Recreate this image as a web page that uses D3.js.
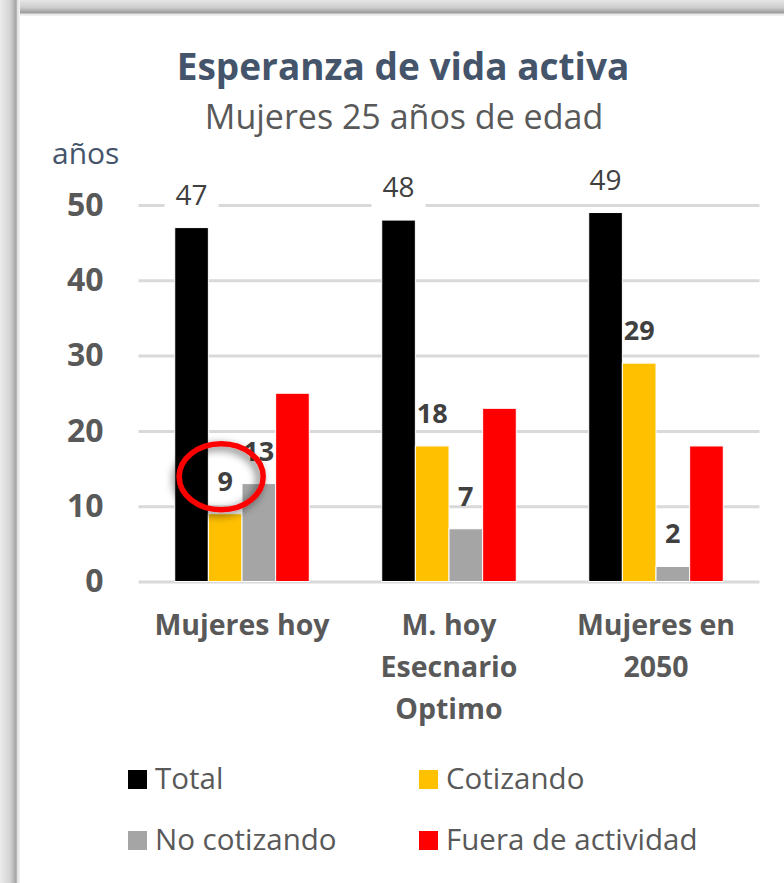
<!DOCTYPE html>
<html>
<head>
<meta charset="utf-8">
<script src="https://cdn.jsdelivr.net/npm/d3@7"></script>
<style>
  body { margin: 0; background: #fff; }
  text { font-family: "Open Sans", "Noto Sans", sans-serif; }
</style>
</head>
<body>
<div id="chart"></div>
<script>
(function() {

  // data
  var categories = ["Mujeres hoy", "M. hoy Esecnario Optimo", "Mujeres en 2050"];
  var categoryLines = [["Mujeres hoy"], ["M. hoy", "Esecnario", "Optimo"], ["Mujeres en", "2050"]];
  var seriesNames = ["Total", "Cotizando", "No cotizando", "Fuera de actividad"];
  var seriesColors = ["#000000", "#FFC000", "#A5A5A5", "#FF0000"];
  var totalValues = [47, 48, 49];
  var cotizandoValues = [9, 18, 29];
  var noCotizandoValues = [13, 7, 2];
  var fueraValues = [25, 23, 18];
  var yTicks = [0, 10, 20, 30, 40, 50];
  // which series get a value label (Fuera de actividad has none)
  var labelled = [true, true, true, false];

  var allValues = [totalValues, cotizandoValues, noCotizandoValues, fueraValues];

  var W = 784, H = 883;
  var plot = { left: 138.5, right: 759.5, top: 205, bottom: 581.5 };

  var svg = d3.select("#chart")
    .append("svg")
    .attr("width", W)
    .attr("height", H);

  var defs = svg.append("defs");

  // frame on the top and left edge
  var gTop = defs.append("linearGradient").attr("id", "gTop")
    .attr("x1", 0).attr("y1", 0).attr("x2", 0).attr("y2", 1);
  gTop.append("stop").attr("offset", "0%").attr("stop-color", "#e6e6e6");
  gTop.append("stop").attr("offset", "45%").attr("stop-color", "#cfcfcf");
  gTop.append("stop").attr("offset", "80%").attr("stop-color", "#9c9c9c");
  gTop.append("stop").attr("offset", "88%").attr("stop-color", "#e4e4e4");
  gTop.append("stop").attr("offset", "100%").attr("stop-color", "#f4f4f4");

  var gLeft = defs.append("linearGradient").attr("id", "gLeft")
    .attr("x1", 0).attr("y1", 0).attr("x2", 1).attr("y2", 0);
  gLeft.append("stop").attr("offset", "0%").attr("stop-color", "#ececec");
  gLeft.append("stop").attr("offset", "50%").attr("stop-color", "#d4d4d4");
  gLeft.append("stop").attr("offset", "80%").attr("stop-color", "#a4a4a4");
  gLeft.append("stop").attr("offset", "88%").attr("stop-color", "#e2e2e2");
  gLeft.append("stop").attr("offset", "100%").attr("stop-color", "#f4f4f4");

  var shadow = defs.append("filter").attr("id", "shadow")
    .attr("x", "-30%").attr("y", "-30%").attr("width", "160%").attr("height", "160%");
  shadow.append("feDropShadow")
    .attr("dx", -3).attr("dy", 3).attr("stdDeviation", 4)
    .attr("flood-color", "#000").attr("flood-opacity", 0.6);

  svg.append("rect").attr("x", 0).attr("y", 0).attr("width", W).attr("height", 16)
    .attr("fill", "url(#gTop)");
  svg.append("rect").attr("x", 0).attr("y", 0).attr("width", 20).attr("height", H)
    .attr("fill", "url(#gLeft)");

  // titles
  svg.append("text")
    .attr("x", 403).attr("y", 80)
    .attr("text-anchor", "middle")
    .style("font-size", "37px").style("font-weight", "bold")
    .style("fill", "#44546A")
    .text("Esperanza de vida activa");

  svg.append("text")
    .attr("x", 404).attr("y", 129)
    .attr("text-anchor", "middle")
    .style("font-size", "34px")
    .style("fill", "#595959")
    .text("Mujeres 25 años de edad");

  svg.append("text")
    .attr("x", 52).attr("y", 164)
    .style("font-size", "30px")
    .style("fill", "#44546A")
    .text("años");

  // scales
  var x0 = d3.scaleBand()
    .domain(categories)
    .range([plot.left, plot.right])
    .paddingInner(0.35)
    .paddingOuter(0.175);

  var x1 = d3.scaleBand()
    .domain(seriesNames)
    .range([0, x0.bandwidth()]);

  var y = d3.scaleLinear()
    .domain([0, 50])
    .range([plot.bottom, plot.top]);

  // gridlines + y tick labels
  var yAxis = svg.append("g")
    .attr("transform", "translate(" + plot.left + ",0)")
    .call(d3.axisLeft(y).tickValues(yTicks).tickSize(-(plot.right - plot.left)).tickPadding(35));
  yAxis.select(".domain").remove();
  yAxis.selectAll(".tick line").attr("stroke", "#D9D9D9").attr("stroke-width", 3);
  yAxis.selectAll(".tick text")
    .style("font-size", "32px").style("font-weight", "bold")
    .style("fill", "#595959")
    .attr("font-family", null);

  // bars
  var groups = svg.selectAll(".grp")
    .data(categories)
    .enter()
    .append("g")
    .attr("class", "grp")
    .attr("transform", function(d) { return "translate(" + x0(d) + ",0)"; });

  groups.each(function(cat, ci) {
    var g = d3.select(this);
    seriesNames.forEach(function(s, si) {
      var v = allValues[si][ci];
      g.append("rect")
        .attr("x", x1(s))
        .attr("y", y(v))
        .attr("width", x1.bandwidth())
        .attr("height", y(0) - y(v))
        .attr("fill", seriesColors[si])
        .attr("stroke", "#fff")
        .attr("stroke-width", 1);
    });
  });

  // value labels
  groups.each(function(cat, ci) {
    var g = d3.select(this);
    seriesNames.forEach(function(s, si) {
      if (!labelled[si]) return;
      var v = allValues[si][ci];
      var cx = x1(s) + x1.bandwidth() / 2;
      var by = y(v) - 23;
      if (si === 0) {
        g.append("rect")
          .attr("x", cx - 27).attr("y", by - 30)
          .attr("width", 54).attr("height", 42)
          .attr("fill", "#fff");
      }
      g.append("text")
        .attr("x", cx).attr("y", by)
        .attr("text-anchor", "middle")
        .style("font-size", si === 0 ? "28px" : "27px")
        .style("font-weight", si === 0 ? "normal" : "bold")
        .style("fill", "#404040")
        .text(v);
    });
  });

  // red ring round the first Cotizando value
  var ringX = x0(categories[0]) + x1(seriesNames[1]) + x1.bandwidth() / 2 - 4;
  var ringY = y(cotizandoValues[0]) - 37;
  svg.append("ellipse")
    .attr("cx", ringX).attr("cy", ringY)
    .attr("rx", 42).attr("ry", 33)
    .attr("fill", "none")
    .attr("stroke", "#FF0000")
    .attr("stroke-width", 5.5)
    .attr("filter", "url(#shadow)");

  // category labels
  svg.selectAll(".xlab")
    .data(categories)
    .enter()
    .append("text")
    .attr("class", "xlab")
    .attr("text-anchor", "middle")
    .attr("x", function(d) { return x0(d) + x0.bandwidth() / 2; })
    .attr("y", 635)
    .style("font-size", "28.5px").style("font-weight", "bold")
    .style("fill", "#595959")
    .each(function(d, i) {
      var t = d3.select(this);
      categoryLines[i].forEach(function(line, li) {
        t.append("tspan")
          .attr("x", x0(d) + x0.bandwidth() / 2)
          .attr("dy", li === 0 ? 0 : 42)
          .text(line);
      });
    });

  // legend
  var legendPos = [[128, 770], [419, 770], [128, 831], [419, 831]];
  var legend = svg.selectAll(".leg")
    .data(seriesNames)
    .enter()
    .append("g")
    .attr("class", "leg")
    .attr("transform", function(d, i) { return "translate(" + legendPos[i][0] + "," + legendPos[i][1] + ")"; });

  legend.append("rect")
    .attr("width", 19).attr("height", 19)
    .attr("fill", function(d, i) { return seriesColors[i]; });

  legend.append("text")
    .attr("x", 27).attr("y", 19)
    .style("font-size", "29.5px")
    .style("fill", "#595959")
    .text(function(d) { return d; });

})();
</script>
</body>
</html>
